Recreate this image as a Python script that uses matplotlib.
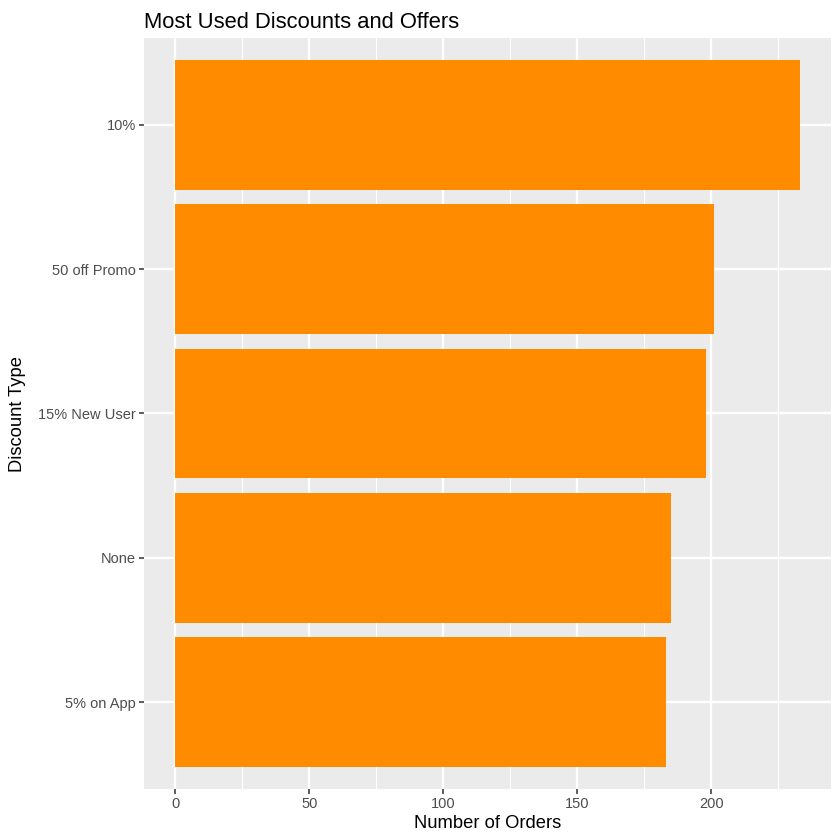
import matplotlib
matplotlib.use("Agg")
import matplotlib.pyplot as plt
from matplotlib.ticker import MultipleLocator

plt.rcParams["font.family"] = ["Liberation Sans", "DejaVu Sans"]

# data, bottom to top
discounts = ["5% on App", "None", "15% New User", "50 off Promo", "10%"]
orders = [183, 185, 198, 201, 233]

fig = plt.figure(figsize=(8.4, 8.4), dpi=100)
ax = fig.add_axes([144 / 840, 51 / 840, 687 / 840, 751 / 840])

ax.set_facecolor("#EBEBEB")
pos = list(range(len(discounts)))
ax.barh(pos, orders, height=0.9, color="#FF8C00", zorder=3)

xmax = max(orders)
ax.set_xlim(-0.05 * xmax, 1.05 * xmax)
ax.set_ylim(-0.6, len(discounts) - 0.4)
ax.xaxis.set_major_locator(MultipleLocator(50))
ax.xaxis.set_minor_locator(MultipleLocator(25))
ax.set_yticks(pos)
ax.set_yticklabels(discounts)

ax.grid(which="major", color="white", linewidth=1.7, zorder=0)
ax.grid(which="minor", axis="x", color="white", linewidth=0.85, zorder=0)
ax.set_axisbelow(True)
for s in ax.spines.values():
    s.set_visible(False)

ax.tick_params(which="major", length=3.3, width=1.1, color="#333333",
               labelcolor="#4D4D4D", labelsize=10.5, pad=2.5)
ax.tick_params(which="minor", length=0)

ax.set_xlabel("Number of Orders", fontsize=13.2, color="black", labelpad=3)
ax.set_ylabel("Discount Type", fontsize=13.2, color="black", labelpad=9)
ax.set_title("Most Used Discounts and Offers", fontsize=15.8, loc="left",
             pad=7)

fig.savefig("out.png", dpi=100)
